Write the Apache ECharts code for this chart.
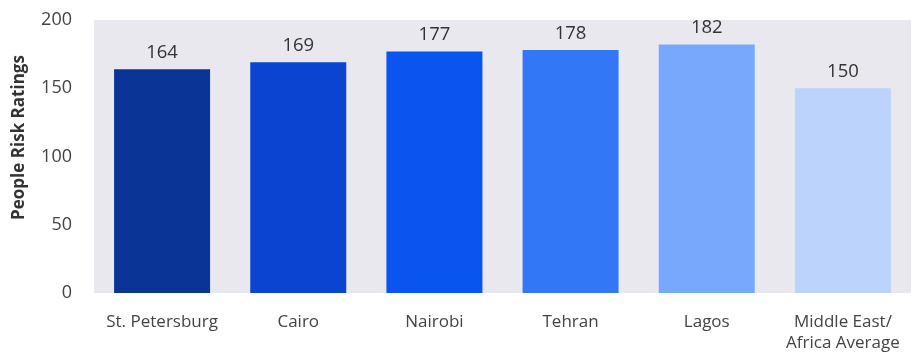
<!DOCTYPE html>
<html>
<head>
<meta charset="utf-8">
<script src="https://cdn.jsdelivr.net/npm/echarts@6/dist/echarts.min.js"></script>
<style>
  html, body { margin: 0; padding: 0; background: #ffffff; }
  #chart { width: 917px; height: 356px; }
</style>
</head>
<body>
<div id="chart"></div>
<script>
// People risk ratings by city, with the regional average
const categories = ['St. Petersburg', 'Cairo', 'Nairobi', 'Tehran', 'Lagos', 'Middle East/\nAfrica Average'];
const ratings = [164, 169, 177, 178, 182, 150];
const barColors = ['#0a3596', '#0a44d0', '#0a55f0', '#3277f5', '#78a8fb', '#bcd4fb'];
const yTicks = { min: 0, max: 200, step: 50 };

const chart = echarts.init(document.getElementById('chart'));
const fontFamily = '"Open Sans", "Noto Sans", sans-serif';

chart.setOption({
  animation: false,
  textStyle: { fontFamily },
  grid: {
    left: 94, right: 6, top: 20, bottom: 63,
    show: true,
    backgroundColor: '#e9e8ef',
    borderWidth: 0
  },
  xAxis: {
    type: 'category',
    data: categories,
    axisLine: { show: false },
    axisTick: { show: false },
    axisLabel: {
      interval: 0,
      color: '#444444', fontSize: 17, margin: 19, lineHeight: 21, fontFamily
    }
  },
  yAxis: {
    type: 'value',
    min: yTicks.min, max: yTicks.max, interval: yTicks.step,
    name: 'People Risk Ratings',
    nameLocation: 'middle',
    nameGap: 66,
    nameTextStyle: {
      color: '#333333', fontSize: 17, fontWeight: 'bold', fontFamily,
      padding: [0, 0, 0, 38]
    },
    axisLine: { show: false },
    axisTick: { show: false },
    splitLine: { show: false },
    axisLabel: { color: '#444444', fontSize: 18, margin: 22, fontFamily }
  },
  series: [{
    type: 'bar',
    data: ratings.map((v, i) => ({ value: v, itemStyle: { color: barColors[i] } })),
    barWidth: '70.5%',
    label: {
      show: true, position: 'top', distance: 7,
      color: '#333333', fontSize: 18.5, fontFamily
    }
  }]
});
</script>
</body>
</html>
